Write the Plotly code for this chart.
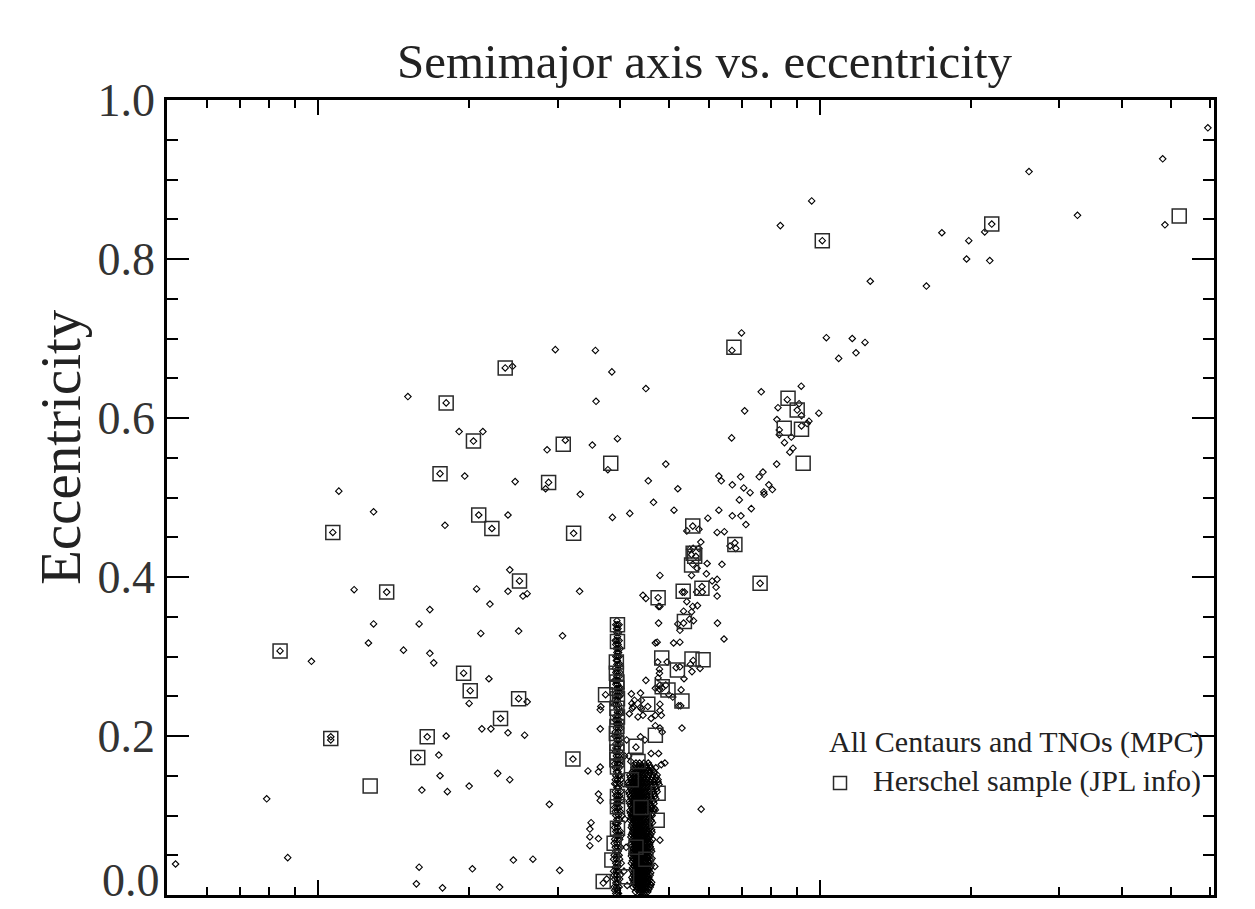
import plotly.graph_objects as go

# ---------------------------------------------------------------------------
# Orbital elements: semimajor axis a [AU] and eccentricity e
# ---------------------------------------------------------------------------

# MPC objects: Centaurs and scattered objects inside 35 AU
mpc_inner = [
    (5.2, 0.039), (7.9, 0.121), (8.4, 0.307), (8.7, 0.047), (9.7, 0.294),
    (10.6, 0.199), (10.6, 0.195), (10.7, 0.456), (11.0, 0.508), (11.8, 0.384),
    (12.6, 0.317), (12.9, 0.482), (12.9, 0.341), (13.7, 0.381), (14.8, 0.308),
    (15.1, 0.627), (15.7, 0.014), (15.8, 0.173), (15.9, 0.341), (15.9, 0.035),
    (16.1, 0.132), (16.5, 0.199), (16.7, 0.359), (16.7, 0.304), (17.0, 0.292),
    (17.4, 0.176), (17.5, 0.150), (17.5, 0.530), (17.7, 0.009), (17.9, 0.465),
    (18.0, 0.619), (18.0, 0.200), (18.1, 0.130), (19.1, 0.583), (19.5, 0.279),
    (19.6, 0.527), (20.0, 0.241), (20.0, 0.137), (20.1, 0.257), (20.3, 0.033),
    (20.4, 0.571), (20.7, 0.385), (20.9, 0.478), (21.1, 0.329), (21.2, 0.209),
    (21.3, 0.583), (21.9, 0.272), (22.0, 0.366), (22.1, 0.209), (22.2, 0.461),
    (22.8, 0.153), (23.0, 0.010), (23.1, 0.222), (23.6, 0.663), (23.9, 0.478),
    (23.9, 0.382), (23.9, 0.204), (24.1, 0.409), (24.1, 0.145), (24.4, 0.665),
    (24.5, 0.044), (24.7, 0.520), (25.1, 0.332), (25.1, 0.247), (25.2, 0.395),
    (25.6, 0.376), (25.8, 0.201), (26.1, 0.379), (26.1, 0.243), (26.8, 0.045),
    (28.4, 0.511), (28.6, 0.560), (28.8, 0.519), (28.9, 0.114), (29.7, 0.686),
    (30.3, 0.031), (30.7, 0.326), (31.1, 0.572), (32.2, 0.171), (32.3, 0.455),
    (33.2, 0.382), (33.3, 0.504), (34.5, 0.156), (34.8, 0.083), (34.8, 0.073),
    (34.8, 0.062), (35.0, 0.091),
]

# MPC objects between 35 AU and the 3:2 resonance
mpc_near = [
    (35.2, 0.566), (35.7, 0.685), (35.8, 0.621), (36.2, 0.155), (36.2, 0.127),
    (36.2, 0.071), (36.5, 0.161), (36.5, 0.119), (36.5, 0.209), (36.5, 0.233),
    (36.6, 0.237), (37.4, 0.252), (37.0, 0.015), (37.6, 0.020), (37.8, 0.535),
    (38.5, 0.658), (38.6, 0.475), (39.5, 0.574),
]

# Plutinos (3:2 resonance): eccentricity row -> semimajor axes
plutino_rows = [
    (0.345, [39.4]), (0.340, [39.2, 39.5, 39.8]), (0.335, [39.3, 39.6]),
    (0.330, [39.4, 39.7]), (0.325, [39.5]), (0.320, [39.1, 39.4, 39.8]),
    (0.315, [39.2, 39.6]), (0.310, [39.3, 39.6, 40.0]),
    (0.305, [39.4, 39.7]), (0.300, [39.2, 39.5, 39.8]),
    (0.295, [39.3, 39.5]), (0.290, [39.4, 39.7, 40.0]),
    (0.285, [39.1, 39.6]), (0.280, [39.2, 39.5, 39.9]),
    (0.275, [39.4, 39.8]), (0.270, [39.0, 39.3, 39.6]),
    (0.265, [39.2, 39.5]), (0.260, [39.4, 39.8, 40.1]),
    (0.255, [39.3, 39.7, 40.0]), (0.250, [39.2, 39.6, 39.9]),
    (0.245, [39.1, 39.5]), (0.240, [39.0, 39.3, 39.7]),
    (0.235, [39.4, 39.8]), (0.230, [39.5, 39.9, 40.2]),
    (0.225, [39.2, 39.6]), (0.220, [39.1, 39.4, 39.8]),
    (0.215, [39.3, 39.5, 39.9]), (0.210, [39.3, 39.7, 40.1]),
    (0.205, [39.1, 39.6]), (0.200, [39.0, 39.4, 39.8]),
    (0.195, [39.4, 39.8]), (0.190, [39.2, 39.6, 40.0]),
    (0.185, [39.2, 39.5]), (0.180, [39.1, 39.4, 39.9]),
    (0.175, [39.3, 39.7]), (0.170, [39.2, 39.6, 40.2]),
    (0.165, [39.0, 39.5, 39.9]), (0.160, [39.1, 39.4, 39.8]),
    (0.155, [39.3, 39.6]), (0.150, [39.2, 39.7, 40.0]),
    (0.145, [39.1, 39.5, 40.1]), (0.140, [39.0, 39.3, 39.9]),
    (0.135, [39.4, 39.7]), (0.130, [39.1, 39.6, 40.1]),
    (0.125, [39.2, 39.5, 39.9]), (0.120, [39.3, 39.7, 40.3]),
    (0.115, [39.3, 39.6]), (0.110, [39.0, 39.4, 39.8]),
    (0.105, [39.1, 39.5, 40.0]), (0.100, [39.2, 39.7, 40.3]),
    (0.095, [39.4, 39.8]), (0.090, [39.1, 39.3, 39.6]),
    (0.085, [39.0, 39.5]), (0.080, [39.2, 39.6, 40.0]),
    (0.075, [39.3, 39.7, 40.2]), (0.070, [39.0, 39.5, 39.9]),
    (0.065, [38.9, 39.4]), (0.060, [39.1, 39.5, 40.1]),
    (0.055, [39.2, 39.6]), (0.050, [38.9, 39.4, 39.8]),
    (0.045, [38.8, 39.3, 39.9]), (0.040, [39.2, 39.6, 40.2]),
    (0.035, [39.1, 39.5]), (0.030, [38.8, 39.3, 39.7]),
    (0.025, [38.9, 39.4, 40.0]), (0.020, [39.0, 39.5, 39.9]),
    (0.015, [39.2, 39.6]), (0.010, [38.9, 39.3, 39.8]),
    (0.006, [39.0, 39.5]), (0.002, [39.2, 39.7]),
]

# Classical Kuiper belt: eccentricity row -> semimajor axes
classical_rows = [
    (0.004, [42.9, 43.6, 44.0, 44.4, 44.9, 45.4]),
    (0.007, [43.2, 43.8, 44.2, 44.6, 45.1, 45.6]),
    (0.010, [42.4, 43.1, 43.5, 43.9, 44.3, 44.7, 45.2, 45.9]),
    (0.013, [42.7, 43.3, 43.7, 44.1, 44.5, 44.9, 45.4, 46.0]),
    (0.016, [42.6, 43.0, 43.4, 43.8, 44.1, 44.5, 45.0, 45.5, 46.2]),
    (0.019, [42.4, 42.8, 43.2, 43.6, 44.0, 44.3, 44.8, 45.3, 45.8]),
    (0.022, [42.2, 42.8, 43.3, 43.7, 44.2, 44.6, 45.1, 45.6]),
    (0.025, [42.5, 43.0, 43.5, 43.9, 44.4, 44.8, 45.3, 45.9]),
    (0.028, [42.5, 43.0, 43.5, 43.9, 44.3, 44.8, 45.3, 46.0]),
    (0.031, [42.2, 42.7, 43.3, 43.7, 44.1, 44.6, 45.0, 45.6]),
    (0.034, [42.3, 42.9, 43.2, 43.6, 44.0, 44.4, 44.9, 45.4, 45.9]),
    (0.037, [42.6, 43.0, 43.4, 43.8, 44.2, 44.6, 45.1, 45.6, 46.1]),
    (0.040, [42.1, 42.7, 43.1, 43.5, 43.8, 44.2, 44.7, 45.2, 45.7]),
    (0.043, [42.3, 42.9, 43.3, 43.6, 44.0, 44.4, 44.9, 45.4, 46.0]),
    (0.046, [42.4, 42.9, 43.3, 43.7, 44.1, 44.5, 45.0, 45.5, 46.3]),
    (0.049, [42.1, 42.6, 43.1, 43.5, 43.9, 44.3, 44.7, 45.2, 45.7]),
    (0.052, [42.2, 42.6, 43.0, 43.4, 43.8, 44.3, 44.8, 45.3, 45.8]),
    (0.055, [42.4, 42.8, 43.2, 43.6, 44.1, 44.6, 45.1, 45.5, 46.2]),
    (0.058, [42.5, 42.9, 43.2, 43.6, 44.0, 44.5, 44.9, 45.6, 46.1]),
    (0.061, [42.2, 42.7, 43.0, 43.4, 43.8, 44.3, 44.7, 45.3, 45.9]),
    (0.064, [42.0, 42.7, 43.1, 43.5, 43.9, 44.2, 44.7, 45.2, 45.8]),
    (0.067, [42.5, 42.9, 43.3, 43.7, 44.0, 44.4, 44.9, 45.4, 46.0]),
    (0.070, [42.3, 42.8, 43.3, 43.7, 44.1, 44.6, 45.1, 45.5, 46.4]),
    (0.073, [42.0, 42.6, 43.1, 43.5, 43.9, 44.3, 44.8, 45.3, 45.8]),
    (0.076, [42.1, 42.6, 43.0, 43.4, 43.8, 44.3, 44.8, 45.4, 46.0]),
    (0.079, [42.3, 42.8, 43.2, 43.6, 44.1, 44.5, 45.0, 45.6, 46.3]),
    (0.082, [42.4, 42.9, 43.2, 43.6, 44.0, 44.4, 44.9, 45.6, 46.2]),
    (0.085, [42.1, 42.5, 43.0, 43.4, 43.8, 44.2, 44.7, 45.2, 45.9]),
    (0.088, [42.2, 42.7, 43.1, 43.5, 43.9, 44.5, 45.0, 45.7]),
    (0.091, [42.4, 42.9, 43.3, 43.7, 44.1, 44.6, 45.1, 45.8, 46.4]),
    (0.094, [41.9, 42.5, 42.9, 43.3, 43.8, 44.2, 44.7, 45.3, 46.1]),
    (0.097, [42.0, 42.4, 42.8, 43.2, 43.6, 44.0, 44.5, 45.1, 45.7]),
    (0.100, [42.1, 42.6, 43.0, 43.4, 43.9, 44.4, 44.9, 45.5, 46.3]),
    (0.103, [41.9, 42.3, 42.8, 43.2, 43.6, 44.1, 44.6, 45.1, 45.7, 46.4]),
    (0.106, [41.8, 42.4, 42.8, 43.2, 43.7, 44.1, 44.6, 45.2, 45.9, 46.6]),
    (0.109, [42.2, 42.6, 43.1, 43.5, 44.0, 44.4, 44.9, 45.5, 46.2, 46.8]),
    (0.112, [42.0, 42.5, 43.0, 43.5, 43.9, 44.3, 44.8, 45.4, 46.1]),
    (0.115, [41.8, 42.4, 42.9, 43.3, 43.7, 44.2, 44.7, 45.3, 45.9, 46.7]),
    (0.118, [41.7, 42.3, 42.7, 43.1, 43.6, 44.0, 44.5, 45.0, 45.7, 46.5]),
    (0.121, [42.1, 42.6, 43.0, 43.5, 43.9, 44.4, 44.9, 45.5, 46.2, 47.1]),
    (0.124, [41.9, 42.5, 42.9, 43.4, 43.8, 44.2, 44.7, 45.3, 46.0, 46.9]),
    (0.127, [41.7, 42.3, 42.8, 43.2, 43.7, 44.1, 44.6, 45.2, 45.9, 46.7]),
    (0.130, [41.6, 42.2, 42.7, 43.1, 43.5, 44.0, 44.5, 45.1, 45.8, 46.6, 47.4]),
    (0.133, [42.0, 42.5, 43.0, 43.4, 43.9, 44.4, 45.0, 45.6, 46.4, 47.2]),
    (0.136, [41.8, 42.4, 42.9, 43.3, 43.8, 44.3, 44.9, 45.5, 46.2, 47.0]),
    (0.139, [41.6, 42.2, 42.7, 43.2, 43.7, 44.2, 44.8, 45.4, 46.1, 46.9, 47.8]),
    (0.142, [41.5, 42.1, 42.6, 43.0, 43.6, 44.1, 44.6, 45.2, 45.9, 46.7, 47.6]),
    (0.145, [42.0, 42.6, 43.1, 43.6, 44.1, 44.7, 45.3, 46.0, 46.9]),
    (0.148, [41.9, 42.5, 43.0, 43.5, 44.0, 44.7, 45.4, 46.3, 47.2]),
    (0.151, [41.8, 42.4, 43.0, 43.6, 44.2, 44.9, 45.6, 46.5, 47.4]),
    (0.154, [42.2, 42.8, 43.3, 43.9, 44.5, 45.1, 45.9, 46.8]),
    (0.157, [42.5, 43.1, 43.7, 44.3, 45.0, 45.7, 46.5]),
    (0.160, [42.6, 43.2, 43.8, 44.4, 45.2, 46.0, 47.1]),
    (0.163, [42.9, 43.5, 44.2, 45.0, 45.8]),
    (0.166, [43.0, 43.7, 44.6, 45.5]),
]

# MPC objects beyond 40 AU outside the dense belt
mpc_outer = [
    (40.6, 0.140), (40.9, 0.095), (41.1, 0.060), (40.7, 0.030), (41.3, 0.012),
    (40.8, 0.175), (41.2, 0.195), (41.6, 0.175), (42.0, 0.168),
    (46.9, 0.036), (46.1, 0.013), (48.0, 0.069), (47.0, 0.107), (47.6, 0.145),
    (42.1, 0.253), (42.7, 0.245), (43.9, 0.254), (43.9, 0.236), (42.5, 0.237),
    (41.7, 0.228), (43.4, 0.224), (44.4, 0.226), (46.1, 0.222), (47.0, 0.226),
    (48.3, 0.226), (47.0, 0.213), (48.0, 0.210), (48.5, 0.205), (43.9, 0.199),
    (44.8, 0.195), (43.0, 0.186), (46.1, 0.178), (47.7, 0.178), (49.1, 0.166),
    (48.3, 0.164), (48.0, 0.264), (47.0, 0.260), (53.1, 0.210), (47.0, 0.317),
    (42.2, 0.241), (42.3, 0.235), (44.1, 0.245), (44.1, 0.234), (45.4, 0.237),
    (41.8, 0.480), (45.0, 0.637),
    (44.4, 0.377), (45.0, 0.373), (45.0, 0.270), (45.5, 0.521), (46.6, 0.494),
    (47.4, 0.318), (47.5, 0.293), (47.6, 0.374), (47.7, 0.363), (48.0, 0.363),
    (47.6, 0.273), (47.9, 0.284), (47.9, 0.279), (47.7, 0.342), (47.9, 0.259),
    (48.5, 0.260), (49.3, 0.264), (48.0, 0.402), (48.0, 0.240), (48.0, 0.232),
    (49.3, 0.542), (49.6, 0.293), (50.0, 0.252), (50.9, 0.249), (51.1, 0.317),
    (51.2, 0.484), (51.7, 0.286), (52.6, 0.287), (52.1, 0.341), (52.6, 0.333),
    (52.1, 0.511), (52.3, 0.238), (52.8, 0.238), (52.6, 0.318), (52.9, 0.258),
    (53.2, 0.381), (53.7, 0.381), (53.5, 0.357), (53.5, 0.342), (53.6, 0.272),
    (54.3, 0.369), (54.3, 0.458), (55.0, 0.435), (55.5, 0.428), (56.6, 0.426),
    (55.8, 0.416), (56.9, 0.411), (55.0, 0.347), (56.0, 0.345), (55.2, 0.290),
    (55.9, 0.295), (55.5, 0.402), (55.5, 0.356), (55.6, 0.281), (55.8, 0.464),
    (55.8, 0.363), (57.0, 0.364), (55.9, 0.436), (57.4, 0.436), (56.8, 0.381),
    (58.3, 0.381), (58.2, 0.388), (57.4, 0.460), (57.7, 0.285), (57.9, 0.444),
    (58.0, 0.108), (59.4, 0.404), (59.6, 0.417), (59.8, 0.474), (61.0, 0.395),
    (62.4, 0.397), (62.1, 0.387), (62.4, 0.376), (62.4, 0.456), (64.5, 0.457),
    (62.5, 0.342), (62.9, 0.527), (63.6, 0.521), (62.9, 0.484), (63.8, 0.416),
    (64.4, 0.322), (66.2, 0.439), (67.7, 0.443), (68.0, 0.436), (66.7, 0.575),
    (66.8, 0.685), (66.9, 0.516), (66.9, 0.477), (69.1, 0.497), (69.5, 0.526),
    (69.6, 0.477), (69.8, 0.707), (70.5, 0.512), (70.8, 0.609), (71.2, 0.466),
    (72.6, 0.506), (73.0, 0.486), (75.7, 0.526), (77.0, 0.532), (76.0, 0.392),
    (76.4, 0.633), (77.3, 0.507), (77.4, 0.504), (79.1, 0.516), (80.4, 0.510),
    (82.0, 0.542), (82.1, 0.598), (83.0, 0.585), (83.0, 0.579), (82.5, 0.613),
    (83.4, 0.842), (85.0, 0.569), (86.1, 0.623), (87.1, 0.557), (88.4, 0.562),
    (87.7, 0.576), (90.1, 0.610), (90.9, 0.618), (91.8, 0.640), (91.9, 0.603),
    (91.9, 0.590), (94.3, 0.593), (95.1, 0.596), (96.3, 0.873), (99.5, 0.606),
    (101.1, 0.823), (103.0, 0.701), (109.0, 0.675), (116.0, 0.700),
    (118.0, 0.682), (123.0, 0.695), (126.0, 0.772), (163.0, 0.766),
    (175.0, 0.833), (196.0, 0.800), (198.0, 0.823), (213.0, 0.834),
    (218.0, 0.798), (220.0, 0.844), (261.0, 0.910), (326.0, 0.855),
    (482.0, 0.926), (487.0, 0.843), (593.0, 0.965),
]

# Herschel targets (orbits from JPL)
herschel = [
    (8.4, 0.307), (10.6, 0.197), (10.7, 0.456), (12.7, 0.137), (13.7, 0.381),
    (15.8, 0.173), (16.5, 0.199), (17.5, 0.530), (18.0, 0.619), (19.5, 0.279),
    (20.1, 0.257), (20.4, 0.571), (20.9, 0.478), (22.2, 0.461), (23.1, 0.222),
    (23.6, 0.663), (25.1, 0.247), (25.2, 0.395), (28.8, 0.519), (30.8, 0.567),
    (32.2, 0.171), (32.3, 0.455), (37.4, 0.252), (37.0, 0.017), (38.3, 0.543),
    (39.5, 0.340), (39.5, 0.319), (39.3, 0.293), (39.3, 0.279), (39.4, 0.268),
    (39.4, 0.260), (39.5, 0.247), (39.4, 0.235), (39.5, 0.224), (39.4, 0.212),
    (39.3, 0.203), (39.4, 0.191), (39.4, 0.180), (39.4, 0.170), (39.5, 0.161),
    (39.5, 0.124), (39.5, 0.111), (39.5, 0.084), (38.9, 0.065), (38.5, 0.044),
    (41.2, 0.023), (42.1, 0.145), (43.4, 0.168), (43.0, 0.187), (47.0, 0.201),
    (47.6, 0.128), (47.4, 0.094), (44.0, 0.110), (43.0, 0.060), (45.0, 0.045),
    (45.4, 0.240), (47.6, 0.374), (48.4, 0.298), (48.5, 0.262), (49.8, 0.258),
    (52.0, 0.283), (53.1, 0.244), (53.4, 0.382), (53.7, 0.344), (55.6, 0.297),
    (58.5, 0.296), (55.8, 0.464), (55.9, 0.430), (56.3, 0.426), (55.5, 0.415),
    (58.2, 0.386), (67.7, 0.441), (76.0, 0.392), (67.4, 0.689), (84.9, 0.587),
    (86.4, 0.625), (90.1, 0.610), (91.9, 0.586), (92.6, 0.543), (101.1, 0.823),
    (220.0, 0.844), (520.0, 0.854),
]

# Axis ticks
y_major = [0.0, 0.2, 0.4, 0.6, 0.8, 1.0]
x_major = [10, 100]
x_minor = [5, 6, 7, 8, 9, 20, 30, 40, 50, 60, 70, 80, 90, 200, 300, 400, 500, 600]

# ---------------------------------------------------------------------------
mpc_a, mpc_e = [], []
for a, e in mpc_inner + mpc_near + mpc_outer:
    mpc_a.append(a)
    mpc_e.append(e)
for rows in (plutino_rows, classical_rows):
    for e, a_list in rows:
        for a in a_list:
            mpc_a.append(a)
            mpc_e.append(e)

hers_a = [p[0] for p in herschel]
hers_e = [p[1] for p in herschel]

FONT = "Liberation Serif"
INK = "#222222"
TICK_INK = "#333333"

fig = go.Figure()
fig.add_trace(go.Scatter(
    x=mpc_a, y=mpc_e, mode="markers", name="All Centaurs and TNOs (MPC)",
    marker=dict(symbol="diamond-open", size=5, color="black",
                line=dict(width=1.1, color="black")),
    showlegend=False,
))
fig.add_trace(go.Scatter(
    x=hers_a, y=hers_e, mode="markers", name="Herschel sample (JPL info)",
    marker=dict(symbol="square-open", size=14, color="#2a2a2a",
                line=dict(width=1.5, color="#2a2a2a")),
    showlegend=False,
))

axis_common = dict(
    showline=True, linecolor="black", linewidth=2.5, mirror="allticks",
    ticks="inside", tickcolor="black", tickwidth=2,
    showgrid=False, zeroline=False, automargin=False,
)

fig.update_xaxes(
    type="log", range=[0.69897, 2.7853],
    tickmode="array", tickvals=x_major, ticklen=15,
    showticklabels=False,
    minor=dict(tickmode="array", tickvals=x_minor, ticks="inside",
               ticklen=8, tickwidth=2, tickcolor="black", showgrid=False),
    **axis_common,
)
# the lowest label sits on the frame corner, so it is set a little higher
fig.update_yaxes(
    range=[0, 1.0],
    tickmode="array", tickvals=y_major[1:],
    ticktext=[f"{v:.1f}" for v in y_major[1:]],
    ticklen=22,
    tickfont=dict(family=FONT, size=46, color=TICK_INK),
    minor=dict(tickmode="array",
               tickvals=[0.0] + [round(0.05 * k, 2) for k in range(1, 20) if k % 4],
               ticks="inside", ticklen=11, tickwidth=2,
               tickcolor="black", showgrid=False),
    **axis_common,
)

annotations = [
    dict(text=f"{y_major[0]:.1f}", x=0, y=y_major[0], xref="paper", yref="y",
         xanchor="right", yanchor="middle", xshift=-5, yshift=15,
         showarrow=False, font=dict(family=FONT, size=46, color=TICK_INK)),
    dict(text="Semimajor axis vs. eccentricity", x=0.5139, y=1.048,
         xref="paper", yref="paper", xanchor="center", yanchor="middle",
         showarrow=False, font=dict(family=FONT, size=49, color=INK)),
    dict(text="Eccentricity", x=-0.1022, y=0.5635, textangle=-90,
         xref="paper", yref="paper", xanchor="center", yanchor="middle",
         showarrow=False, font=dict(family=FONT, size=57, color=INK)),
    dict(text="All Centaurs and TNOs (MPC)", x=0.9914, y=0.1925,
         xref="paper", yref="paper", xanchor="right", yanchor="middle",
         showarrow=False, font=dict(family=FONT, size=30, color=INK)),
    dict(text="Herschel sample (JPL info)", x=0.9895, y=0.1434,
         xref="paper", yref="paper", xanchor="right", yanchor="middle",
         showarrow=False, font=dict(family=FONT, size=30, color=INK)),
]

# legend key for the Herschel sample
fig.add_shape(type="rect", xref="paper", yref="paper",
              x0=0.6366, x1=0.6490, y0=0.1327, y1=0.1491,
              line=dict(color="#2a2a2a", width=1.5), fillcolor="rgba(0,0,0,0)")

fig.update_layout(
    width=1255, height=909,
    margin=dict(l=167, r=41, t=100, b=14),
    paper_bgcolor="white", plot_bgcolor="white",
    annotations=annotations,
    showlegend=False,
)

fig.write_html("out.html")
